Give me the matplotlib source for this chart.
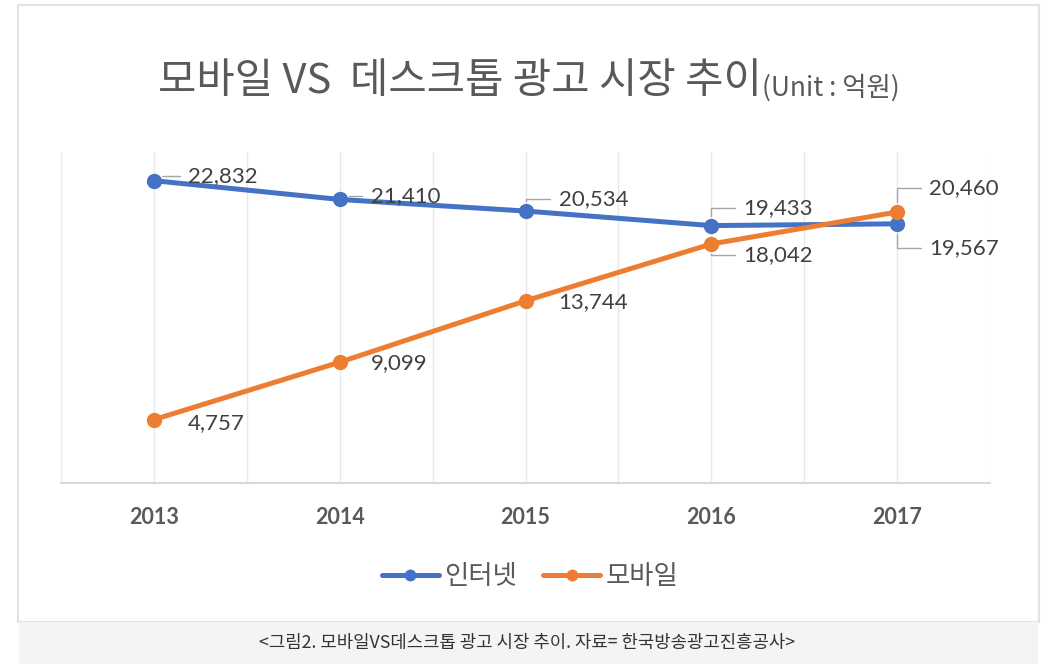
import matplotlib
matplotlib.use("Agg")
import matplotlib.pyplot as plt
from matplotlib.patches import Rectangle

plt.rcParams['font.family'] = ['Noto Sans CJK KR', 'DejaVu Sans']

years = [2013, 2014, 2015, 2016, 2017]
internet = [22832, 21410, 20534, 19433, 19567]
mobile = [4757, 9099, 13744, 18042, 20460]
series_names = ['인터넷', '모바일']
title_main = '모바일 VS  데스크톱 광고 시장 추이'
title_unit = '(Unit : 억원)'
caption = '<그림2. 모바일VS데스크톱 광고 시장 추이. 자료= 한국방송광고진흥공사>'

BLUE = '#4472C4'
ORANGE = '#ED7D31'
TXT = '#404040'
W, H = 1048, 664

fig = plt.figure(figsize=(W / 100, H / 100), dpi=100, facecolor='white')

# panel and caption band
fig.patches.append(Rectangle((18 / W, 1 - 622 / H), (1039 - 18) / W, (622 - 5) / H,
                             transform=fig.transFigure, facecolor='white',
                             edgecolor='#e2e2e2', lw=1.5, zorder=-2))
fig.patches.append(Rectangle((19 / W, 0), (1038 - 19) / W, (664 - 622) / H,
                             transform=fig.transFigure, facecolor='#f4f4f4',
                             edgecolor='none', zorder=-2))

ax = fig.add_axes([61 / W, 1 - 482.5 / H, (990 - 61) / W, (482.5 - 152) / H])
ax.set_facecolor('none')
ax.set_xlim(2012.5, 2017.5)
ax.set_ylim(0, 25000)

# vertical gridlines at every half category
for gx in [2012.5 + 0.5 * i for i in range(11)]:
    ax.axvline(gx, color='#e8e8e8', lw=1, zorder=0)

for s in ['top', 'right', 'left']:
    ax.spines[s].set_visible(False)
ax.spines['bottom'].set_color('#d9d9d9')
ax.spines['bottom'].set_linewidth(1.5)
ax.set_yticks([])
ax.set_xticks(years)
ax.set_xticklabels([str(y) for y in years], fontsize=15.5, color='#595959',
                   fontfamily=['Lato', 'DejaVu Sans'], fontweight='bold')
ax.tick_params(axis='x', length=0, pad=18)

ax.plot(years, internet, color=BLUE, lw=3.6, marker='o', ms=10, label=series_names[0],
        zorder=3, solid_capstyle='round')
ax.plot(years, mobile, color=ORANGE, lw=3.6, marker='o', ms=10, label=series_names[1],
        zorder=4, solid_capstyle='round')

# label offsets in pixels (dx to text left edge, dy upward) and leader-line flags
internet_offsets = [(34, 5, True), (31, 3, True), (33, 12, True), (32, 18, True), (32, -24, True)]
mobile_offsets = [(34, -3, False), (31, -1, False), (33, -1, False), (32, -11, True), (32, 24, True)]


def put_labels(vals, offs):
    for x, v, (dx, dy, lead) in zip(years, vals, offs):
        ap = None
        if lead:
            ap = dict(arrowstyle='-', color='#a6a6a6', lw=1, shrinkA=4, shrinkB=7,
                      relpos=(0, 0.5), connectionstyle='angle,angleA=0,angleB=90,rad=0')
        ax.annotate(f'{v:,}', xy=(x, v), xytext=(dx, dy), textcoords='offset pixels',
                    ha='left', va='center', fontsize=16, color=TXT,
                    fontfamily=['Lato', 'DejaVu Sans'], arrowprops=ap, zorder=5)


put_labels(internet, internet_offsets)
put_labels(mobile, mobile_offsets)

leg = ax.legend(loc='center', bbox_to_anchor=(530 / W, 1 - 577 / H), bbox_transform=fig.transFigure,
                ncol=2, frameon=False, fontsize=19, handlelength=2.15, handletextpad=0.2,
                columnspacing=1.0, markerscale=0.75)
for t in leg.get_texts():
    t.set_color('#595959')

# title in two sizes
fig.text(762 / W, 1 - 82 / H, title_main, ha='right', va='center', fontsize=30, color='#595959')
fig.text(762 / W, 1 - 88 / H, title_unit, ha='left', va='center', fontsize=19, color='#595959')

fig.text(527 / W, 1 - 643 / H, caption, ha='center', va='center', fontsize=12.8, color='#333333')

fig.savefig('out.png', dpi=100, facecolor='white')
